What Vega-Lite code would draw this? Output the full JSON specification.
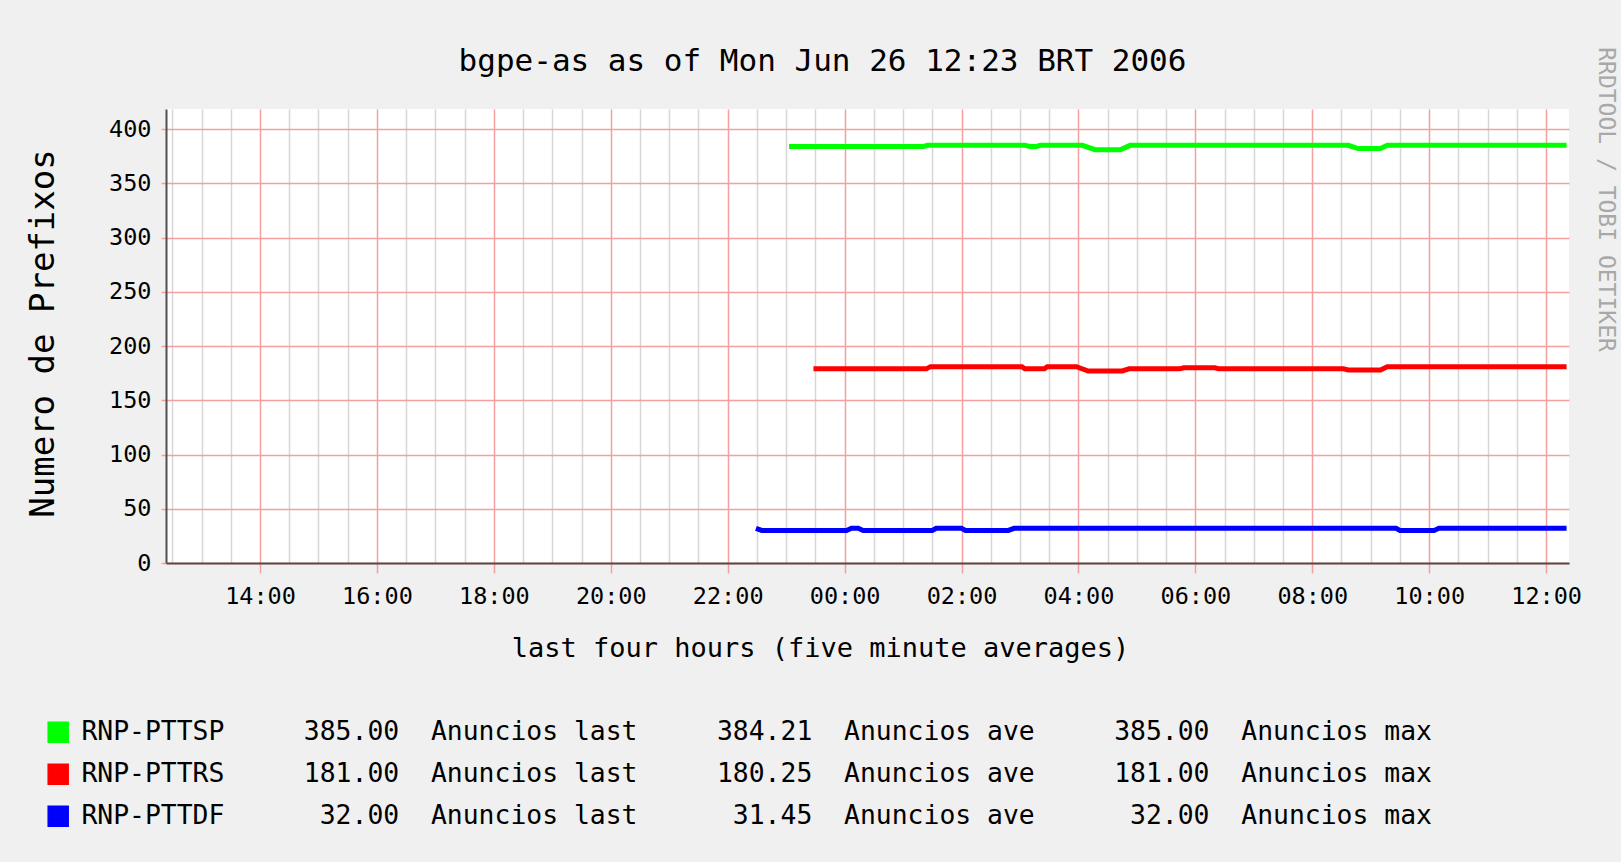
{
  "$schema": "https://vega.github.io/schema/vega-lite/v6.json",
  "autosize": {"type": "none"},
  "padding": {"left": 166, "top": 109, "right": 52, "bottom": 299},
  "width": 1403,
  "height": 454,
  "background": "#f0f0f0",
  "config": {"view": {"fill": "#ffffff", "stroke": null}},
  "data": {
    "values": [
      {"s": "RNP-PTTSP", "t": "2006-06-25T23:03Z", "v": 384},
      {"s": "RNP-PTTSP", "t": "2006-06-26T01:21Z", "v": 384},
      {"s": "RNP-PTTSP", "t": "2006-06-26T01:25Z", "v": 385},
      {"s": "RNP-PTTSP", "t": "2006-06-26T03:05Z", "v": 385},
      {"s": "RNP-PTTSP", "t": "2006-06-26T03:10Z", "v": 384},
      {"s": "RNP-PTTSP", "t": "2006-06-26T03:17Z", "v": 384},
      {"s": "RNP-PTTSP", "t": "2006-06-26T03:21Z", "v": 385},
      {"s": "RNP-PTTSP", "t": "2006-06-26T04:04Z", "v": 385},
      {"s": "RNP-PTTSP", "t": "2006-06-26T04:17Z", "v": 381},
      {"s": "RNP-PTTSP", "t": "2006-06-26T04:43Z", "v": 381},
      {"s": "RNP-PTTSP", "t": "2006-06-26T04:53Z", "v": 385},
      {"s": "RNP-PTTSP", "t": "2006-06-26T08:37Z", "v": 385},
      {"s": "RNP-PTTSP", "t": "2006-06-26T08:47Z", "v": 382},
      {"s": "RNP-PTTSP", "t": "2006-06-26T09:10Z", "v": 382},
      {"s": "RNP-PTTSP", "t": "2006-06-26T09:17Z", "v": 385},
      {"s": "RNP-PTTSP", "t": "2006-06-26T12:21Z", "v": 385},
      {"s": "RNP-PTTRS", "t": "2006-06-25T23:28Z", "v": 179},
      {"s": "RNP-PTTRS", "t": "2006-06-26T01:24Z", "v": 179},
      {"s": "RNP-PTTRS", "t": "2006-06-26T01:28Z", "v": 181},
      {"s": "RNP-PTTRS", "t": "2006-06-26T03:02Z", "v": 181},
      {"s": "RNP-PTTRS", "t": "2006-06-26T03:05Z", "v": 179},
      {"s": "RNP-PTTRS", "t": "2006-06-26T03:25Z", "v": 179},
      {"s": "RNP-PTTRS", "t": "2006-06-26T03:28Z", "v": 181},
      {"s": "RNP-PTTRS", "t": "2006-06-26T03:58Z", "v": 181},
      {"s": "RNP-PTTRS", "t": "2006-06-26T04:10Z", "v": 177},
      {"s": "RNP-PTTRS", "t": "2006-06-26T04:45Z", "v": 177},
      {"s": "RNP-PTTRS", "t": "2006-06-26T04:52Z", "v": 179},
      {"s": "RNP-PTTRS", "t": "2006-06-26T05:44Z", "v": 179},
      {"s": "RNP-PTTRS", "t": "2006-06-26T05:48Z", "v": 180},
      {"s": "RNP-PTTRS", "t": "2006-06-26T06:20Z", "v": 180},
      {"s": "RNP-PTTRS", "t": "2006-06-26T06:24Z", "v": 179},
      {"s": "RNP-PTTRS", "t": "2006-06-26T08:32Z", "v": 179},
      {"s": "RNP-PTTRS", "t": "2006-06-26T08:37Z", "v": 178},
      {"s": "RNP-PTTRS", "t": "2006-06-26T09:10Z", "v": 178},
      {"s": "RNP-PTTRS", "t": "2006-06-26T09:17Z", "v": 181},
      {"s": "RNP-PTTRS", "t": "2006-06-26T12:21Z", "v": 181},
      {"s": "RNP-PTTDF", "t": "2006-06-25T22:29Z", "v": 32},
      {"s": "RNP-PTTDF", "t": "2006-06-25T22:35Z", "v": 30},
      {"s": "RNP-PTTDF", "t": "2006-06-26T00:02Z", "v": 30},
      {"s": "RNP-PTTDF", "t": "2006-06-26T00:07Z", "v": 32},
      {"s": "RNP-PTTDF", "t": "2006-06-26T00:14Z", "v": 32},
      {"s": "RNP-PTTDF", "t": "2006-06-26T00:19Z", "v": 30},
      {"s": "RNP-PTTDF", "t": "2006-06-26T01:30Z", "v": 30},
      {"s": "RNP-PTTDF", "t": "2006-06-26T01:34Z", "v": 32},
      {"s": "RNP-PTTDF", "t": "2006-06-26T02:00Z", "v": 32},
      {"s": "RNP-PTTDF", "t": "2006-06-26T02:04Z", "v": 30},
      {"s": "RNP-PTTDF", "t": "2006-06-26T02:48Z", "v": 30},
      {"s": "RNP-PTTDF", "t": "2006-06-26T02:54Z", "v": 32},
      {"s": "RNP-PTTDF", "t": "2006-06-26T09:26Z", "v": 32},
      {"s": "RNP-PTTDF", "t": "2006-06-26T09:30Z", "v": 30},
      {"s": "RNP-PTTDF", "t": "2006-06-26T10:05Z", "v": 30},
      {"s": "RNP-PTTDF", "t": "2006-06-26T10:10Z", "v": 32},
      {"s": "RNP-PTTDF", "t": "2006-06-26T12:21Z", "v": 32}
    ]
  },
  "layer": [
    {
      "mark": {"type": "point", "opacity": 0},
      "encoding": {
        "x": {
          "field": "t",
          "type": "temporal",
          "axis": {
            "orient": "top",
            "values": [1151238600000, 1151240400000, 1151242200000, 1151245800000, 1151247600000, 1151249400000, 1151253000000, 1151254800000, 1151256600000, 1151260200000, 1151262000000, 1151263800000, 1151267400000, 1151269200000, 1151271000000, 1151274600000, 1151276400000, 1151278200000, 1151281800000, 1151283600000, 1151285400000, 1151289000000, 1151290800000, 1151292600000, 1151296200000, 1151298000000, 1151299800000, 1151303400000, 1151305200000, 1151307000000, 1151310600000, 1151312400000, 1151314200000, 1151317800000, 1151319600000, 1151321400000],
            "labels": false,
            "ticks": false,
            "domain": false,
            "grid": true,
            "gridColor": "#d6d6d6",
            "gridWidth": 1.5,
            "title": "bgpe-as as of Mon Jun 26 12:23 BRT 2006",
            "titleFont": "DejaVu Sans Mono",
            "titleFontSize": 31,
            "titleFontWeight": "normal",
            "titleColor": "#000000",
            "titleX": 656,
            "titleY": -39,
            "titleAlign": "center",
            "titleBaseline": "alphabetic"
          }
        },
        "y": {
          "field": "v",
          "type": "quantitative",
          "axis": {
            "orient": "right",
            "labels": false,
            "ticks": false,
            "domain": false,
            "grid": false,
            "title": "RRDTOOL / TOBI OETIKER",
            "titleFont": "DejaVu Sans Mono",
            "titleFontSize": 23,
            "titleFontWeight": "normal",
            "titleColor": "#a8a8a8",
            "titleAngle": 90,
            "titleX": 29,
            "titleY": 90,
            "titleAlign": "center",
            "titleBaseline": "alphabetic"
          }
        }
      }
    },
    {
      "mark": {"type": "line", "strokeWidth": 5},
      "encoding": {
        "x": {
          "field": "t",
          "type": "temporal",
          "scale": {"type": "utc", "domain": [1151238210000, 1151324610000]},
          "axis": {
            "orient": "bottom",
            "values": [1151244000000, 1151251200000, 1151258400000, 1151265600000, 1151272800000, 1151280000000, 1151287200000, 1151294400000, 1151301600000, 1151308800000, 1151316000000, 1151323200000],
            "format": "%H:%M",
            "labelFont": "DejaVu Sans Mono",
            "labelFontSize": 23.5,
            "labelColor": "#000000",
            "labelBaseline": "middle",
            "labelPadding": 23,
            "tickSize": 10,
            "tickWidth": 1.5,
            "tickColor": "#f4a0a0",
            "grid": true,
            "gridWidth": 1.5,
            "gridColor": "#f4a0a0",
            "domainColor": "#5a4848",
            "domainWidth": 2,
            "title": "last four hours (five minute averages)",
            "titleFont": "DejaVu Sans Mono",
            "titleFontSize": 27,
            "titleFontWeight": "normal",
            "titleColor": "#000000",
            "titleX": 654,
            "titleY": 93,
            "titleAlign": "center",
            "titleBaseline": "alphabetic"
          }
        },
        "y": {
          "field": "v",
          "type": "quantitative",
          "scale": {"domain": [0, 418.5], "nice": false},
          "axis": {
            "orient": "left",
            "values": [0, 50, 100, 150, 200, 250, 300, 350, 400],
            "labelFont": "DejaVu Sans Mono",
            "labelFontSize": 23.5,
            "labelColor": "#000000",
            "labelPadding": 10,
            "tickSize": 5,
            "tickWidth": 1.5,
            "tickColor": "#f4a0a0",
            "grid": true,
            "gridWidth": 1.5,
            "gridColor": "#f4a0a0",
            "domainColor": "#505050",
            "domainWidth": 2,
            "title": "Numero de Prefixos",
            "titleFont": "DejaVu Sans Mono",
            "titleFontSize": 34,
            "titleFontWeight": "normal",
            "titleColor": "#000000",
            "titleAngle": 270,
            "titleX": -113,
            "titleY": 224,
            "titleAlign": "center",
            "titleBaseline": "alphabetic"
          }
        },
        "color": {
          "field": "s",
          "type": "nominal",
          "scale": {"domain": ["RNP-PTTSP", "RNP-PTTRS", "RNP-PTTDF"], "range": ["#00ff00", "#ff0000", "#0000ff"]},
          "legend": {
            "orient": "none",
            "legendX": -121,
            "legendY": 610,
            "direction": "vertical",
            "title": null,
            "padding": 0,
            "labelFont": "DejaVu Sans Mono",
            "labelFontSize": 26.4,
            "labelColor": "#000000",
            "labelLimit": 3000,
            "labelOffset": 10,
            "rowPadding": 15,
            "symbolType": "square",
            "symbolSize": 400,
            "symbolStrokeWidth": 1.5,
            "labelExpr": "datum.label == 'RNP-PTTSP' ? 'RNP-PTTSP\u00a0\u00a0\u00a0\u00a0\u00a0385.00\u00a0\u00a0Anuncios\u00a0last\u00a0\u00a0\u00a0\u00a0\u00a0384.21\u00a0\u00a0Anuncios\u00a0ave\u00a0\u00a0\u00a0\u00a0\u00a0385.00\u00a0\u00a0Anuncios\u00a0max' : datum.label == 'RNP-PTTRS' ? 'RNP-PTTRS\u00a0\u00a0\u00a0\u00a0\u00a0181.00\u00a0\u00a0Anuncios\u00a0last\u00a0\u00a0\u00a0\u00a0\u00a0180.25\u00a0\u00a0Anuncios\u00a0ave\u00a0\u00a0\u00a0\u00a0\u00a0181.00\u00a0\u00a0Anuncios\u00a0max' : 'RNP-PTTDF\u00a0\u00a0\u00a0\u00a0\u00a0\u00a032.00\u00a0\u00a0Anuncios\u00a0last\u00a0\u00a0\u00a0\u00a0\u00a0\u00a031.45\u00a0\u00a0Anuncios\u00a0ave\u00a0\u00a0\u00a0\u00a0\u00a0\u00a032.00\u00a0\u00a0Anuncios\u00a0max'",
            "encode": {
              "symbols": {
                "update": {
                  "fill": {"scale": "color", "field": "value"},
                  "stroke": {"value": "#000000"},
                  "strokeWidth": {"value": 1.5},
                  "fillOpacity": {"value": 1},
                  "opacity": {"value": 1}
                }
              }
            }
          }
        }
      }
    }
  ],
  "resolve": {"axis": {"x": "independent", "y": "independent"}}
}
